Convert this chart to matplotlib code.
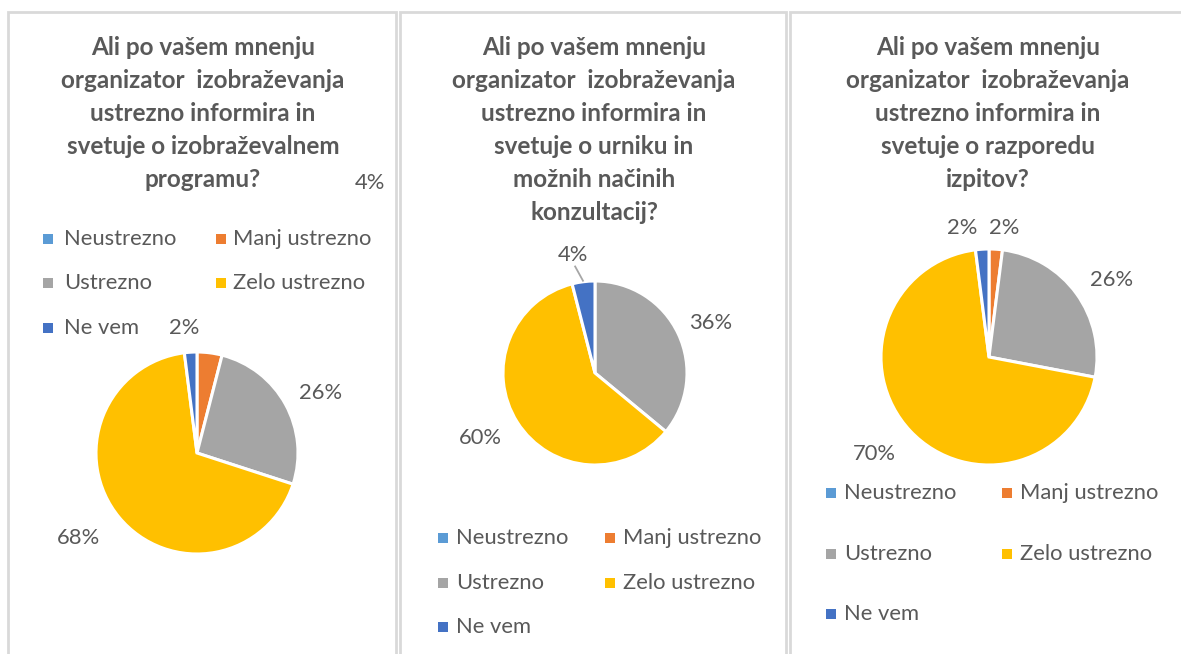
import matplotlib
matplotlib.use("Agg")
import matplotlib.pyplot as plt
import numpy as np
from matplotlib.patches import Rectangle

# ---- data ----
categories = ["Neustrezno", "Manj ustrezno", "Ustrezno", "Zelo ustrezno", "Ne vem"]
colors = ["#5B9BD5", "#ED7D31", "#A5A5A5", "#FFC000", "#4472C4"]

titles = [
    "Ali po vašem mnenju\norganizator  izobraževanja\nustrezno informira in\nsvetuje o izobraževalnem\nprogramu?",
    "Ali po vašem mnenju\norganizator  izobraževanja\nustrezno informira in\nsvetuje o urniku in\nmožnih načinih\nkonzultacij?",
    "Ali po vašem mnenju\norganizator  izobraževanja\nustrezno informira in\nsvetuje o razporedu\nizpitov?",
]
program_values = [0, 4, 26, 68, 2]
schedule_values = [0, 0, 36, 60, 4]
exams_values = [0, 2, 26, 70, 2]
panel_values = [program_values, schedule_values, exams_values]

# ---- layout (pixels, origin top-left) ----
W, H = 1181, 654
TXT = "#595959"
FONT = "Lato"
TITLE_SIZE = 17.5
BODY_SIZE = 15.8

panels = [
    dict(box=(8, 396), title_x=203, pie=(197, 453, 101),
         leg_rows=(239, 283, 328), leg_cols=((48, 64), (221, 233)),
         lab=[None, None, (1.36, -3), (1.44, -4), (1.24, 2.5)],
         fixed={1: (370, 183)}),
    dict(box=(400, 786), title_x=594, pie=(595, 373, 92),
         leg_rows=(538, 583, 627), leg_cols=((443, 456), (610, 623)),
         lab=[None, None, (1.37, -2), (1.43, -3), (1.30, 3.5)],
         fixed={}, leader=4),
    dict(box=(790, 1185), title_x=988, pie=(989, 357, 108),
         leg_rows=(493, 554, 614), leg_cols=((831, 844), (1007, 1020)),
         lab=[None, (1.20, -3), (1.34, -4), (1.39, -3), (1.22, 8)],
         fixed={}),
]

fig = plt.figure(figsize=(W / 100, H / 100), dpi=100)
ax = fig.add_axes([0, 0, 1, 1])


def Y(y):
    return H - y


for vals, title, p in zip(panel_values, titles, panels):
    x0, x1 = p["box"]
    ax.add_patch(Rectangle((x0, Y(700)), x1 - x0, 700 - 12, fill=False,
                           edgecolor="#D9D9D9", linewidth=2, zorder=0))
    ax.text(p["title_x"], Y(36), title, ha="center", va="top",
            fontsize=TITLE_SIZE, fontweight="bold", color=TXT, family=FONT,
            linespacing=1.53)

    cx, cy, R = p["pie"]
    wedges, _ = ax.pie(vals, colors=colors, startangle=90, counterclock=False,
                       center=(cx, Y(cy)), radius=R, frame=True,
                       wedgeprops=dict(edgecolor="white", linewidth=2.2))

    for i, (w, v) in enumerate(zip(wedges, vals)):
        if v == 0:
            continue
        label = f"{v}%"
        if i in p["fixed"]:
            lx, ly = p["fixed"][i]
            ax.text(lx, Y(ly), label, ha="center", va="center",
                    fontsize=BODY_SIZE, color=TXT, family=FONT)
            continue
        dist, dang = p["lab"][i]
        mid = np.deg2rad((w.theta1 + w.theta2) / 2 + dang)
        lx = cx + dist * R * np.cos(mid)
        ly = Y(cy) + dist * R * np.sin(mid)
        ax.text(lx, ly, label, ha="center", va="center",
                fontsize=BODY_SIZE, color=TXT, family=FONT)
        if p.get("leader") == i:
            emid = np.deg2rad((w.theta1 + w.theta2) / 2)
            ex = cx + R * np.cos(emid)
            ey = Y(cy) + R * np.sin(emid)
            ax.plot([lx + 0.22 * (ex - lx), ex - 0.5], [ly - 11, ey + 1],
                    color="#A6A6A6", linewidth=1.3)

    for i, (cat, col) in enumerate(zip(categories, colors)):
        ry = p["leg_rows"][i // 2]
        mx, tx = p["leg_cols"][i % 2]
        ax.add_patch(Rectangle((mx - 5, Y(ry) - 5), 10, 10, facecolor=col,
                               edgecolor="none"))
        ax.text(tx, Y(ry), cat, ha="left", va="center", fontsize=BODY_SIZE,
                color=TXT, family=FONT)

ax.set_xlim(0, W)
ax.set_ylim(0, H)
ax.set_aspect("equal")
ax.axis("off")
fig.savefig("out.png", dpi=100)
